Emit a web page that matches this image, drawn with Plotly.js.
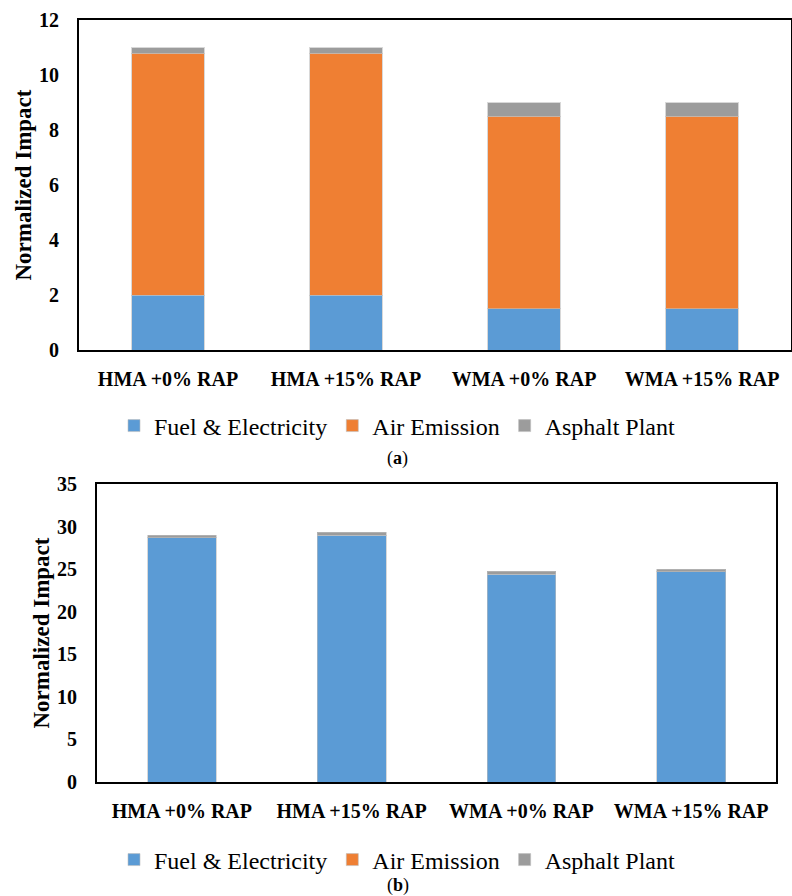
<!DOCTYPE html>
<html>
<head>
<meta charset="utf-8">
<script src="https://cdn.plot.ly/plotly-3.0.1.min.js"></script>
<style>html,body{margin:0;padding:0;background:#fff;}#chart{width:792px;height:896px;}</style>
</head>
<body>
<div id="chart"></div>
<script>
const categories = ['HMA +0% RAP', 'HMA +15% RAP', 'WMA +0% RAP', 'WMA +15% RAP'];
const seriesNames = ['Fuel & Electricity', 'Air Emission', 'Asphalt Plant'];
// panel (a)
const aFuel = [2.0, 2.0, 1.5, 1.5];
const aAir = [8.8, 8.8, 7.0, 7.0];
const aPlant = [0.2, 0.2, 0.5, 0.5];
// panel (b)
const bFuel = [28.7, 29.0, 24.4, 24.7];
const bAir = [0, 0, 0, 0];
const bPlant = [0.3, 0.35, 0.35, 0.3];

const colors = ['#5b9bd5', '#ef7f33', '#9c9c9c'];
const W = 792, H = 896;
const SERIF = 'Liberation Serif';

function mk(vals, i, xa, ya, leg) {
  return {
    type: 'bar', x: categories, y: vals, name: seriesNames[i],
    xaxis: xa, yaxis: ya, legend: leg,
    marker: {color: colors[i], line: {width: 1, color: 'rgba(190,190,190,0.6)'}},
    hoverinfo: 'skip'
  };
}

const data = [
  mk(aFuel, 0, 'x', 'y', 'legend'),
  mk(aAir, 1, 'x', 'y', 'legend'),
  mk(aPlant, 2, 'x', 'y', 'legend'),
  mk(bFuel, 0, 'x2', 'y2', 'legend2'),
  mk(bAir, 1, 'x2', 'y2', 'legend2'),
  mk(bPlant, 2, 'x2', 'y2', 'legend2')
];

function tickFont() { return {family: SERIF, size: 20, color: '#000', weight: 'bold'}; }
function titleFont() { return {family: SERIF, size: 23, color: '#000', weight: 'bold'}; }
function legFont() { return {family: SERIF, size: 24, color: '#000'}; }

function xax(d) {
  return {domain: d, showline: true, mirror: true, linecolor: '#000', linewidth: 2,
    showgrid: false, ticks: '', tickfont: tickFont(), ticklabelstandoff: 10, fixedrange: true};
}
function yax(d, range, dtick, anchor) {
  return {domain: d, range: range, dtick: dtick, anchor: anchor, showline: true, mirror: true,
    linecolor: '#000', linewidth: 2, showgrid: false, zeroline: false, ticks: '',
    tickfont: tickFont(), ticklabelstandoff: 14,
    title: {text: 'Normalized Impact', font: titleFont(), standoff: 1}};
}

const layout = {
  width: W, height: H,
  margin: {l: 0, r: 0, t: 0, b: 0},
  paper_bgcolor: '#fff', plot_bgcolor: '#fff',
  font: {family: SERIF, color: '#000'},
  barmode: 'stack', bargap: 0.595,
  showlegend: true,
  xaxis: Object.assign(xax([79 / W, 791 / W]), {anchor: 'y'}),
  yaxis: yax([(H - 350) / H, (H - 20) / H], [0, 12], 2, 'x'),
  xaxis2: Object.assign(xax([97 / W, 776 / W]), {anchor: 'y2'}),
  yaxis2: yax([(H - 782) / H, (H - 484) / H], [0, 35], 5, 'x2'),
  legend: {orientation: 'h', x: 397 / W, xanchor: 'center', y: (H - 426) / H, yanchor: 'middle',
    font: legFont(), traceorder: 'normal', itemwidth: 30, bgcolor: 'rgba(0,0,0,0)'},
  legend2: {orientation: 'h', x: 397 / W, xanchor: 'center', y: (H - 860) / H, yanchor: 'middle',
    font: legFont(), traceorder: 'normal', itemwidth: 30, bgcolor: 'rgba(0,0,0,0)'},
  annotations: [
    {text: '(<b>a</b>)', xref: 'paper', yref: 'paper', x: 398 / W, y: (H - 458) / H,
      xanchor: 'center', yanchor: 'middle',
      showarrow: false, font: {family: SERIF, size: 18, color: '#000'}},
    {text: '(<b>b</b>)', xref: 'paper', yref: 'paper', x: 398 / W, y: (H - 885) / H,
      xanchor: 'center', yanchor: 'middle',
      showarrow: false, font: {family: SERIF, size: 18, color: '#000'}}
  ]
};

Plotly.newPlot('chart', data, layout, {displayModeBar: false, staticPlot: true});
</script>
</body>
</html>
